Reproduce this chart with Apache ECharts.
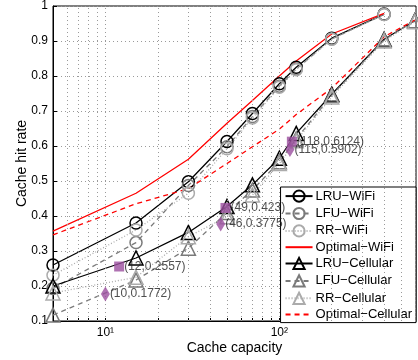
<!DOCTYPE html>
<html><head><meta charset="utf-8">
<script src="https://cdn.jsdelivr.net/npm/echarts@6/dist/echarts.min.js"></script>
<style>html,body{margin:0;padding:0;background:#fff}#c{width:418px;height:360px}</style>
</head><body><div id="c"></div>
<script>
const xWifi = [5, 15, 30, 50, 70, 100, 125, 200, 400];
const xCell = [5, 15, 30, 50, 70, 100, 125, 200, 400, 600];
const lruWifi = [0.26, 0.38, 0.498, 0.613, 0.693, 0.778, 0.825, 0.908, 0.977];
const lfuWifi = [0.193, 0.324, 0.487, 0.598, 0.684, 0.771, 0.82, 0.906, 0.976];
const rrWifi = [0.231, 0.36, 0.465, 0.592, 0.68, 0.768, 0.818, 0.905, 0.976];
const optWifi = [0.357, 0.465, 0.562, 0.665, 0.73, 0.8, 0.843, 0.92, 0.979];
const lruCell = [0.2, 0.28, 0.353, 0.427, 0.489, 0.565, 0.636, 0.748, 0.905, 0.958];
const lfuCell = [0.117, 0.217, 0.308, 0.41, 0.474, 0.555, 0.62, 0.745, 0.903, 0.958];
const rrCell = [0.18, 0.225, 0.341, 0.398, 0.46, 0.55, 0.615, 0.74, 0.9, 0.955];
const optCell = [0.346, 0.435, 0.478, 0.55, 0.598, 0.648, 0.69, 0.765, 0.912, 0.96];
const tipSquares = [[12, 0.2557], [49, 0.423], [118, 0.6124]];
const tipDiamonds = [[10, 0.1772], [46, 0.3775], [115, 0.5902]];
const xLabelTicks = [10, 100];
const xGridVals = [6, 7, 8, 9, 10, 20, 30, 40, 50, 60, 70, 80, 90, 100, 200, 300, 400, 500, 600];
const names = ['LRU\u2212WiFi', 'LFU\u2212WiFi', 'RR\u2212WiFi', 'Optimal\u2212WiFi',
  'LRU\u2212Cellular', 'LFU\u2212Cellular', 'RR\u2212Cellular', 'Optimal\u2212Cellular'];

const zip = (xs, ys) => xs.map((x, i) => [x, ys[i]]);
const FONT = 'Liberation Sans, Arial, sans-serif';

function lineSeries(name, xs, ys, color, type, symbol, symSize) {
  return {
    name, type: 'line', data: zip(xs, ys),
    symbol: symbol || 'none', symbolSize: symSize || 12,
    showSymbol: !!symbol,
    lineStyle: { color, width: 1.3, type },
    itemStyle: symbol ? { color: 'none', borderColor: color, borderWidth: 1.5 }
                      : { color: 'none', borderColor: 'none', borderWidth: 0, opacity: 0 },
    emphasis: { disabled: true }, animation: false, z: 3
  };
}

const chart = echarts.init(document.getElementById('c'), null, { renderer: 'canvas' });
const supMap = { 10: '10\u00b9', 100: '10\u00b2' };
chart.setOption({
  animation: false,
  textStyle: { fontFamily: FONT },
  grid: { left: 53, right: 2, top: 6, bottom: 39, show: true, borderColor: '#000', borderWidth: 1, backgroundColor: 'transparent' },
  xAxis: {
    type: 'log', logBase: 10, min: 5, max: 610,
    name: 'Cache capacity', nameLocation: 'middle', nameGap: 20, nameMoveOverlap: false,
    nameTextStyle: { fontSize: 14, color: '#000', fontFamily: FONT },
    axisLine: { lineStyle: { color: '#000', width: 1 } },
    axisTick: { inside: true, length: 3, customValues: xGridVals, lineStyle: { color: '#000' } },
    axisLabel: { customValues: xLabelTicks, formatter: v => supMap[Math.round(v)] || '', fontSize: 12, color: '#000', margin: 6, fontFamily: FONT },
    splitLine: { show: false }, minorTick: { show: false }
  },
  yAxis: {
    type: 'value', min: 0.1, max: 1, interval: 0.1,
    name: 'Cache hit rate', nameLocation: 'middle', nameGap: 24, nameMoveOverlap: false,
    nameTextStyle: { fontSize: 14, color: '#000', fontFamily: FONT },
    axisLine: { show: true, lineStyle: { color: '#000' } },
    axisTick: { show: true, inside: true, length: 4, lineStyle: { color: '#000' } },
    axisLabel: { formatter: v => (Math.abs(v - 1) < 1e-9 ? '1' : v.toFixed(1)), fontSize: 12, color: '#000', margin: 5, fontFamily: FONT },
    splitLine: { show: true, lineStyle: { color: '#9a9a9a', width: 1, type: [1, 3] } }
  },
  legend: {
    data: names, orient: 'vertical', right: 2, top: 187,
    padding: [1, 4, 1, 4], itemGap: 1.2, itemWidth: 27, itemHeight: 14,
    borderColor: '#000', borderWidth: 1, backgroundColor: '#fff',
    textStyle: { fontSize: 13, lineHeight: 14, color: '#000', fontFamily: FONT, padding: [0, 0, 0, -2] },
    selectedMode: false
  },
  series: [
    {
      name: 'grid-x', type: 'line', data: zip(xWifi, lruWifi), symbol: 'none',
      lineStyle: { opacity: 0 }, silent: true, z: 1, animation: false,
      markLine: {
        silent: true, symbol: 'none', label: { show: false }, animation: false,
        lineStyle: { color: '#9a9a9a', width: 1, type: [1, 3] },
        data: xGridVals.map(v => ({ xAxis: v }))
      }
    },
    lineSeries(names[0], xWifi, lruWifi, '#000000', 'solid', 'circle', 12),
    lineSeries(names[1], xWifi, lfuWifi, '#7a7a7a', [5, 4], 'circle', 12),
    lineSeries(names[2], xWifi, rrWifi, '#ababab', [1, 2], 'circle', 12),
    lineSeries(names[3], xWifi, optWifi, '#ff0000', 'solid', null),
    lineSeries(names[4], xCell, lruCell, '#000000', 'solid', 'triangle', 14),
    lineSeries(names[5], xCell, lfuCell, '#7a7a7a', [5, 4], 'triangle', 14),
    lineSeries(names[6], xCell, rrCell, '#ababab', [1, 2], 'triangle', 14),
    lineSeries(names[7], xCell, optCell, '#ff0000', [5, 4], null),
    {
      name: 'tipSq', type: 'scatter', data: tipSquares, symbol: 'rect', symbolSize: 10,
      itemStyle: { color: '#9b4f9f' }, z: 5, animation: false,
      label: { show: true, position: 'right', distance: 0, fontSize: 12, color: '#222', fontFamily: FONT,
        formatter: p => '(' + p.value[0] + ',' + p.value[1] + ')' }
    },
    {
      name: 'tipDi', type: 'scatter', data: tipDiamonds, symbol: 'diamond', symbolSize: [9, 15],
      itemStyle: { color: '#9b4f9f' }, z: 5, animation: false,
      label: { show: true, position: 'right', distance: 0, fontSize: 12, color: '#222', fontFamily: FONT,
        formatter: p => '(' + p.value[0] + ',' + p.value[1] + ')' }
    }
  ]
});
</script></body></html>
